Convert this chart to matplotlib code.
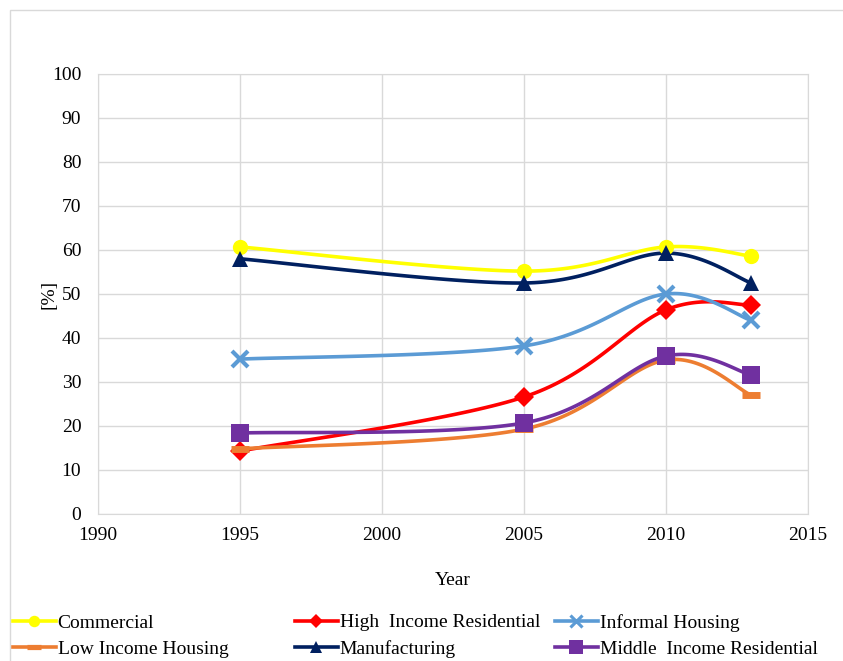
import numpy as np
import matplotlib.pyplot as plt
from matplotlib.lines import Line2D
from matplotlib.patches import Rectangle

plt.rcParams['font.family'] = ['Liberation Serif', 'DejaVu Serif']

years = [1995, 2005, 2010, 2013]
commercial = [60.7, 55.2, 60.7, 58.6]
high_income = [14.3, 26.6, 46.4, 47.5]
informal = [35.2, 38.2, 50.0, 44.0]
low_income = [14.8, 19.3, 35.0, 27.0]
manufacturing = [58.0, 52.5, 59.3, 52.5]
middle_income = [18.4, 20.7, 35.9, 31.6]

labels = ['Commercial', 'High  Income Residential', 'Informal Housing',
          'Low Income Housing', 'Manufacturing', 'Middle  Income Residential']
series = [commercial, high_income, informal, low_income, manufacturing, middle_income]
colors = ['#FFFF00', '#FF0000', '#5B9BD5', '#ED7D31', '#002060', '#7030A0']
markers = ['o', 'D', 'x', '_', '^', 's']
msizes = [11, 10, 11, 13, 12, 13]
mews = [0, 0, 3, 5, 0, 0]

xlim = (1990, 2015)
ylim = (0, 100)
fs = 14


def smooth(x, y, sx, sy, n=40):
    # excel-like smoothing: catmull-rom via bezier, done in pixel space
    p = np.column_stack([np.asarray(x, float) * sx, np.asarray(y, float) * sy])
    pts = np.vstack([p[0], p, p[-1]])
    out = []
    t = np.linspace(0, 1, n)[:, None]
    for i in range(1, len(pts) - 2):
        p0, p1, p2, p3 = pts[i - 1], pts[i], pts[i + 1], pts[i + 2]
        c1 = p1 + (p2 - p0) / 6
        c2 = p2 - (p3 - p1) / 6
        seg = ((1 - t) ** 3) * p1 + 3 * ((1 - t) ** 2) * t * c1 + 3 * (1 - t) * t ** 2 * c2 + t ** 3 * p2
        out.append(seg if i == 1 else seg[1:])
    out = np.vstack(out)
    return out[:, 0] / sx, out[:, 1] / sy


fig = plt.figure(figsize=(8.43, 6.61), dpi=100)
ax = fig.add_axes([98 / 843, 147 / 661, 710 / 843, 440 / 661])
fig.patches.append(Rectangle((10 / 843, -0.01), 1.0, 1 - 10 / 661 + 0.01, transform=fig.transFigure,
                             fill=False, edgecolor='#d9d9d9', lw=1))

sx = 710 / (xlim[1] - xlim[0])
sy = 440 / (ylim[1] - ylim[0])

handles = []
for lab, vals, c, m, ms, mw in zip(labels, series, colors, markers, msizes, mews):
    xs, ys = smooth(years, vals, sx, sy)
    ax.plot(xs, ys, color=c, lw=2.6, zorder=3, solid_capstyle='round')
    ax.plot(years, vals, linestyle='none', marker=m, markersize=ms, color=c,
            markeredgewidth=mw, markeredgecolor=c, zorder=4)
    handles.append(Line2D([], [], color=c, lw=2.6, marker=m, markersize=ms * 0.75,
                          markeredgewidth=mw * 0.75, markeredgecolor=c))

ax.set_xlim(*xlim)
ax.set_ylim(*ylim)
ax.set_xticks(range(1990, 2016, 5))
ax.set_yticks(range(0, 101, 10))
ax.grid(True, color='#d9d9d9', lw=1)
ax.set_axisbelow(True)
for s in ['top', 'right', 'left', 'bottom']:
    ax.spines[s].set_color('#d9d9d9')
ax.tick_params(length=0, labelsize=fs)
ax.tick_params(axis='y', pad=12)
ax.tick_params(axis='x', pad=9)
ax.set_xlabel('Year', fontsize=fs)
ax.set_ylabel('[%]', fontsize=fs)
ax.xaxis.set_label_coords(0.5, -(572 - 514) / 440)
ax.yaxis.set_label_coords((57 - 98) / 710, 0.5)

# legend: three columns placed separately, two rows each
col_x = [13, 295, 555]
for k, x0 in enumerate(col_x):
    idx = [k, k + 3]
    leg = fig.legend([handles[i] for i in idx], [labels[i] for i in idx],
                     loc='lower left', bbox_to_anchor=(x0 / 843, 3 / 661), frameon=False,
                     fontsize=fs, handlelength=2.2, handletextpad=0.1,
                     labelspacing=0.45, borderpad=0, borderaxespad=0)

fig.savefig('out.png', dpi=100)
